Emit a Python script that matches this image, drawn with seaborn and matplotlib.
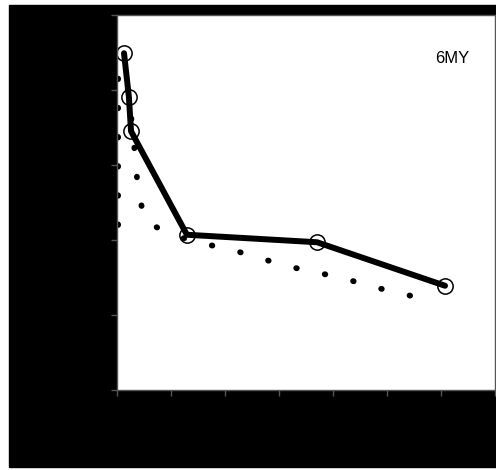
"""Concentration profile, 6MY panel."""

import matplotlib
matplotlib.use("Agg")
import matplotlib.pyplot as plt
from matplotlib.patches import Rectangle
import pandas as pd
import seaborn as sns

# observed points (solid line with open circles)
obs_time = [0.26, 0.44, 0.52, 2.59, 7.41, 12.15]
obs_value = [44.9, 39.1, 34.5, 20.7, 19.7, 13.9]

# model curve (dotted line)
fit_time = [0.04, 0.04, 0.33, 0.48, 0.70, 0.78, 1.07, 2.04, 3.07, 4.15,
            5.19, 6.30, 7.37, 8.48, 9.52, 10.56, 11.67]
fit_value = [22.0, 42.4, 41.7, 38.0, 30.3, 26.3, 22.4, 20.7, 19.6, 18.8,
             17.7, 16.5, 15.7, 14.8, 13.7, 12.9, 11.7]

x_ticks = [0, 2, 4, 6, 8, 10, 12, 14]
y_ticks = [0, 10, 20, 30, 40, 50]
panel_label = "6MY"


def main():
    sns.set_style("white")
    plt.rcParams["font.family"] = ["Liberation Sans", "DejaVu Sans"]

    obs = pd.DataFrame({"time": obs_time, "value": obs_value})
    fit = pd.DataFrame({"time": fit_time, "value": fit_value})

    fig = plt.figure(figsize=(4.96, 4.70), dpi=100, facecolor="white")
    fig.patches.append(Rectangle((9 / 496, 3 / 470), 487 / 496, 462 / 470,
                                 transform=fig.transFigure, color="black",
                                 zorder=-5))
    ax = fig.add_axes([117 / 496, 80 / 470, 378 / 496, 375 / 470])
    ax.set_facecolor("white")

    sns.lineplot(data=fit, x="time", y="value", sort=False, ax=ax,
                 color="black", linewidth=4.2, linestyle=(0, (0.1, 4.9)),
                 dash_capstyle="round", estimator=None)
    sns.lineplot(data=obs, x="time", y="value", sort=False, ax=ax,
                 color="black", linewidth=4.3, estimator=None,
                 marker="o", markersize=11, markerfacecolor="none",
                 markeredgecolor="black", markeredgewidth=1.1)

    ax.set_xlim(0, 14)
    ax.set_ylim(0, 50)
    ax.set_xticks(x_ticks)
    ax.set_yticks(y_ticks)
    ax.set_xlabel("")
    ax.set_ylabel("")
    ax.tick_params(axis="both", direction="out", length=4, width=1,
                   color="#555555", labelcolor="black", labelsize=10,
                   bottom=True, left=True)
    for side in ["left", "bottom", "top", "right"]:
        ax.spines[side].set_color("#555555")
        ax.spines[side].set_linewidth(1)

    ax.text(0.886, 0.883, panel_label, transform=ax.transAxes,
            fontsize=12, ha="center", va="center", color="black")

    fig.savefig("out.png", dpi=100, facecolor=fig.get_facecolor())
    plt.close(fig)


if __name__ == "__main__":
    main()
